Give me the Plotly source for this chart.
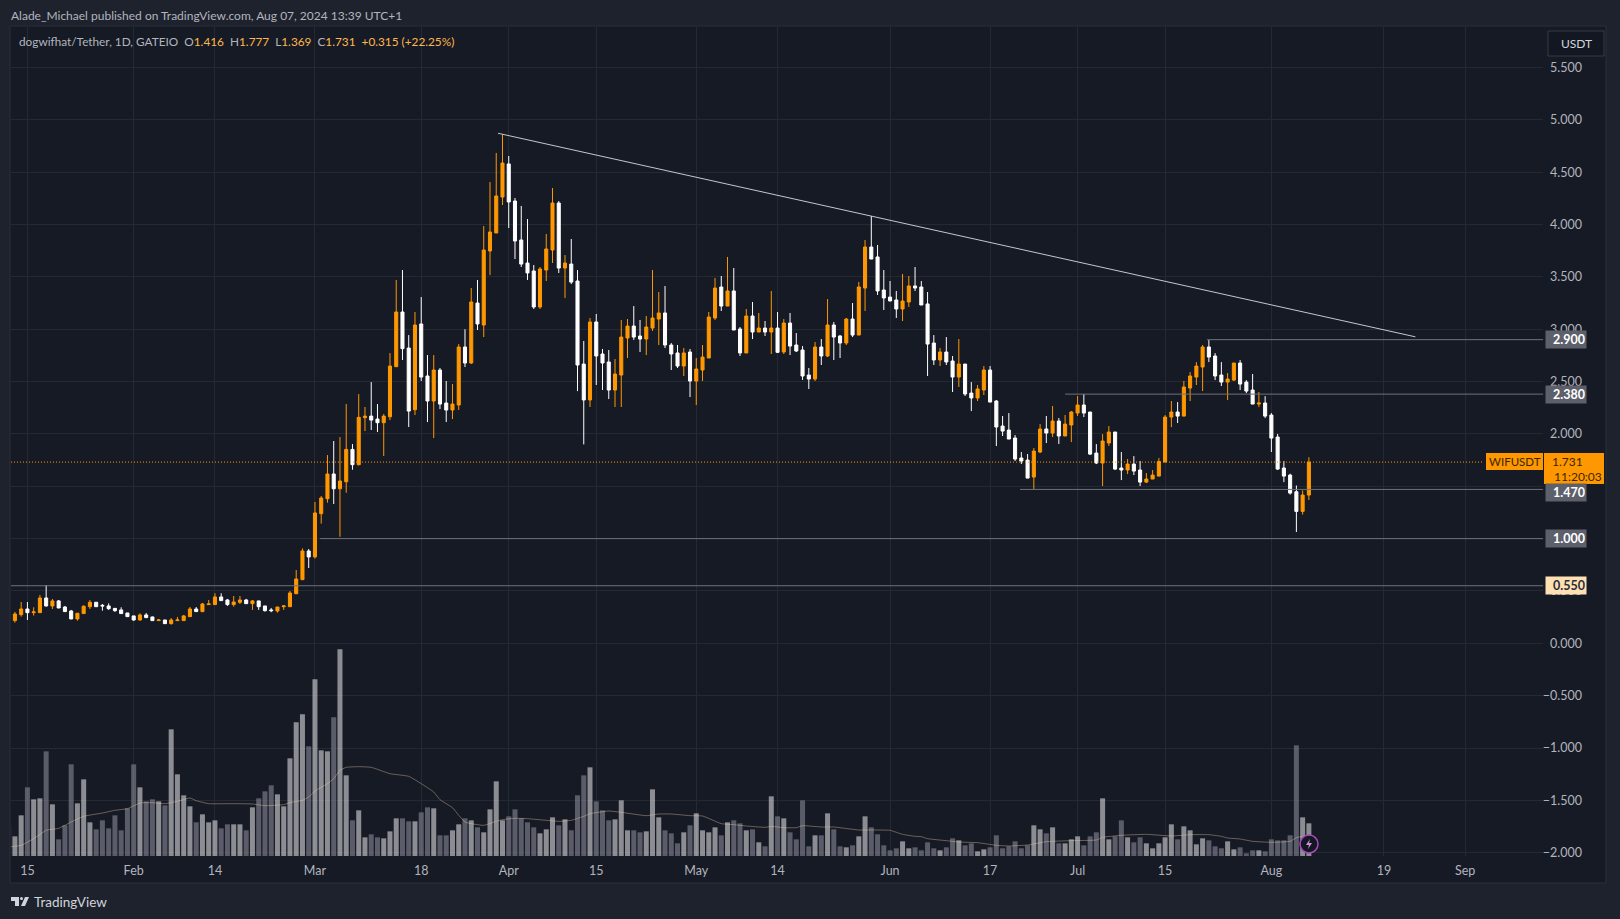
import pandas as pd
import plotly.graph_objects as go

# daily candles, Jan 12 to Aug 7 2024 (WIF/USDT)
opens = [
    .240, .217, .274, .328, .293, .293, .433, .357, .405, .347, .309, .233, .284, .350, .392, .363, .357, .334, .319, .290,
    .262, .223, .271, .252, .217, .223, .188, .217, .217, .255, .328, .303, .370, .370, .443, .414, .370, .392, .414, .379,
    .405, .357, .319, .309, .350, .350, .474, .608, .882, .825, 1.238, 1.381, 1.617, 1.476, 1.543, 1.852, 1.706, 2.155, 2.170, 2.142,
    2.107, 2.164, 2.642, 3.164, 2.820, 2.231, 3.050, 2.553, 2.314, 2.610, 2.295, 2.228, 2.276, 2.830, 2.677, 3.250, 3.040, 3.747, 3.919, 4.262,
    4.578, 4.224, 3.852, 3.632, 3.556, 3.212, 3.565, 3.756, 4.205, 3.584, 3.622, 3.460, 2.667, 2.324, 3.069, 2.763, 2.687, 2.419, 2.562, 2.916,
    3.030, 2.935, 2.906, 3.011, 3.097, 3.155, 2.849, 2.773, 2.648, 2.782, 2.505, 2.610, 2.725, 3.107, 3.403, 3.221, 3.365, 3.002, 2.773, 3.126,
    2.973, 3.011, 2.973, 3.011, 2.782, 3.059, 2.849, 2.801, 2.562, 2.524, 2.830, 2.744, 3.040, 2.935, 2.868, 3.097, 2.944, 3.393, 3.785, 3.690,
    3.374, 3.307, 3.279, 3.193, 3.260, 3.413, 3.403, 3.241, 2.868, 2.706, 2.782, 2.696, 2.543, 2.667, 2.390, 2.343, 2.419, 2.610, 2.314, 2.075,
    2.037, 1.961, 1.770, 1.750, 1.588, 1.827, 2.047, 2.008, 2.123, 1.980, 2.085, 2.199, 2.276, 2.209, 1.817, 1.722, 1.913, 2.018, 1.674, 1.655,
    1.712, 1.655, 1.540, 1.569, 1.597, 1.731, 2.161, 2.209, 2.170, 2.438, 2.543, 2.639, 2.830, 2.744, 2.562, 2.495, 2.514, 2.677, 2.495, 2.419,
    2.285, 2.295, 2.180, 1.970, 1.674, 1.607, 1.448, 1.260, 1.416,
]
highs = [
    .260, .300, .395, .395, .344, .462, .557, .424, .414, .357, .319, .290, .363, .414, .392, .376, .382, .334, .344, .290,
    .262, .287, .290, .255, .233, .223, .242, .252, .271, .347, .347, .386, .414, .478, .478, .424, .452, .452, .424, .414,
    .405, .357, .338, .347, .366, .500, .700, .907, .901, 1.350, 1.407, 1.798, 1.932, 1.970, 2.285, 1.903, 2.380, 2.257, 2.495, 2.285,
    2.190, 2.772, 3.470, 3.565, 2.944, 3.164, 3.307, 2.753, 2.753, 2.630, 2.505, 2.476, 2.858, 3.000, 3.393, 3.470, 3.985, 4.406, 4.683, 4.864,
    4.654, 4.253, 4.177, 4.052, 3.613, 3.594, 3.909, 4.348, 4.224, 3.708, 3.861, 3.565, 2.887, 3.107, 3.145, 2.811, 2.801, 2.715, 3.088, 3.097,
    3.221, 3.088, 3.126, 3.565, 3.355, 3.412, 2.868, 2.849, 2.820, 2.811, 2.725, 2.849, 3.164, 3.489, 3.508, 3.690, 3.584, 3.021, 3.193, 3.260,
    3.155, 3.078, 3.365, 3.164, 3.097, 3.155, 2.963, 2.839, 2.629, 2.878, 2.906, 3.288, 3.069, 2.945, 3.107, 3.250, 3.451, 3.852, 4.081, 3.804,
    3.565, 3.460, 3.365, 3.527, 3.508, 3.594, 3.460, 3.355, 2.944, 2.820, 2.925, 2.744, 2.906, 2.667, 2.495, 2.467, 2.648, 2.648, 2.324, 2.171,
    2.199, 1.989, 1.827, 1.808, 1.865, 2.094, 2.171, 2.266, 2.152, 2.180, 2.218, 2.362, 2.381, 2.209, 1.903, 1.998, 2.075, 2.018, 1.827, 1.760,
    1.788, 1.741, 1.626, 1.655, 1.769, 2.180, 2.314, 2.304, 2.505, 2.591, 2.686, 2.849, 2.896, 2.772, 2.686, 2.581, 2.677, 2.705, 2.514, 2.572,
    2.400, 2.361, 2.199, 2.000, 1.741, 1.620, 1.507, 1.460, 1.777,
]
lows = [
    .210, .198, .255, .223, .265, .290, .350, .328, .335, .300, .230, .217, .282, .328, .350, .312, .319, .300, .280, .255,
    .215, .217, .240, .215, .215, .185, .179, .215, .215, .252, .300, .297, .368, .370, .405, .357, .350, .376, .376, .319,
    .319, .303, .297, .293, .319, .350, .470, .608, .719, .809, 1.143, 1.343, 1.330, 1.018, 1.438, 1.658, 1.700, 2.027, 2.037, 2.018,
    1.789, 2.132, 2.640, 2.706, 2.066, 2.180, 2.505, 2.113, 1.960, 2.237, 2.113, 2.142, 2.228, 2.639, 2.667, 2.992, 2.925, 3.517, 3.919, 4.186,
    3.966, 3.670, 3.594, 3.470, 3.193, 3.193, 3.460, 3.632, 3.537, 3.298, 3.431, 2.409, 1.900, 2.257, 2.467, 2.419, 2.333, 2.257, 2.257, 2.725,
    2.897, 2.782, 2.753, 2.983, 2.849, 2.820, 2.610, 2.629, 2.553, 2.352, 2.276, 2.505, 2.725, 3.088, 3.174, 3.221, 2.992, 2.744, 2.773, 2.906,
    2.973, 2.935, 2.763, 2.773, 2.763, 2.753, 2.782, 2.515, 2.429, 2.505, 2.658, 2.734, 2.706, 2.725, 2.849, 2.925, 2.944, 3.174, 3.670, 3.327,
    3.183, 3.269, 3.107, 3.078, 3.212, 3.365, 3.231, 2.553, 2.658, 2.648, 2.658, 2.400, 2.448, 2.362, 2.218, 2.314, 2.371, 2.304, 1.884, 1.980,
    1.951, 1.741, 1.712, 1.578, 1.473, 1.817, 1.913, 1.970, 1.903, 1.980, 1.922, 2.171, 2.161, 1.798, 1.712, 1.502, 1.884, 1.655, 1.559, 1.616,
    1.607, 1.502, 1.530, 1.569, 1.597, 1.731, 2.065, 2.104, 2.170, 2.314, 2.467, 2.409, 2.686, 2.514, 2.457, 2.323, 2.505, 2.419, 2.390, 2.285,
    2.256, 2.151, 1.827, 1.655, 1.540, 1.420, 1.063, 1.230, 1.369,
]
closes = [
    .217, .280, .328, .293, .300, .433, .357, .405, .338, .303, .233, .287, .354, .392, .350, .357, .331, .312, .284, .255,
    .223, .271, .246, .217, .223, .188, .223, .223, .262, .328, .303, .376, .376, .443, .408, .370, .395, .414, .379, .405,
    .350, .312, .312, .347, .357, .481, .614, .882, .825, 1.245, 1.388, 1.617, 1.476, 1.550, 1.852, 1.706, 2.158, 2.170, 2.132, 2.107,
    2.170, 2.648, 3.164, 2.814, 2.218, 3.040, 2.543, 2.314, 2.610, 2.285, 2.228, 2.285, 2.830, 2.677, 3.260, 3.050, 3.756, 3.928, 4.272, 4.587,
    4.215, 3.842, 3.622, 3.537, 3.212, 3.575, 3.766, 4.205, 3.584, 3.632, 3.450, 2.658, 2.324, 3.069, 2.744, 2.677, 2.419, 2.572, 2.925, 3.030,
    2.925, 2.906, 3.021, 3.107, 3.155, 2.849, 2.763, 2.648, 2.773, 2.505, 2.620, 2.734, 3.116, 3.393, 3.221, 3.365, 2.992, 2.773, 3.126, 2.973,
    3.011, 2.973, 3.011, 2.779, 3.059, 2.839, 2.792, 2.553, 2.524, 2.830, 2.744, 3.040, 2.925, 2.868, 3.097, 2.944, 3.403, 3.785, 3.670, 3.365,
    3.298, 3.269, 3.193, 3.269, 3.413, 3.393, 3.231, 2.858, 2.706, 2.782, 2.687, 2.543, 2.667, 2.381, 2.343, 2.429, 2.610, 2.304, 2.066, 2.027,
    1.951, 1.760, 1.741, 1.578, 1.836, 2.047, 2.008, 2.123, 1.980, 2.094, 2.209, 2.276, 2.199, 1.807, 1.722, 1.932, 2.018, 1.664, 1.655, 1.712,
    1.645, 1.540, 1.569, 1.607, 1.737, 2.161, 2.209, 2.170, 2.448, 2.553, 2.648, 2.830, 2.734, 2.553, 2.495, 2.524, 2.677, 2.476, 2.409, 2.285,
    2.295, 2.170, 1.960, 1.664, 1.597, 1.435, 1.260, 1.416, 1.731,
]
volumes = [
    92, 59, 122, 206, 170, 173, 314, 155, 50, 92, 275, 158, 230, 101, 80, 107, 83, 122, 77, 143,
    275, 206, 164, 170, 164, 152, 380, 245, 182, 149, 101, 125, 101, 107, 83, 95, 95, 95, 77, 146,
    173, 194, 212, 185, 149, 293, 401, 425, 329, 530, 317, 314, 416, 620, 242, 107, 137, 56, 65, 56,
    53, 74, 113, 113, 104, 104, 131, 146, 143, 62, 62, 77, 95, 113, 107, 86, 71, 140, 224, 107,
    119, 140, 113, 101, 86, 68, 80, 116, 92, 110, 77, 182, 242, 266, 164, 137, 107, 110, 167, 77,
    77, 71, 74, 200, 116, 77, 68, 38, 71, 92, 128, 77, 71, 86, 62, 101, 107, 98, 77, 80,
    41, 29, 179, 119, 113, 71, 50, 167, 29, 62, 62, 128, 80, 29, 26, 32, 59, 119, 86, 65,
    32, 17, 23, 44, 23, 26, 17, 41, 23, 17, 26, 53, 47, 32, 38, 14, 20, 26, 62, 23,
    29, 44, 23, 32, 92, 80, 68, 86, 38, 38, 50, 59, 32, 59, 71, 173, 50, 59, 107, 56,
    41, 56, 38, 23, 38, 56, 95, 50, 89, 77, 35, 53, 47, 29, 23, 44, 20, 26, 8, 17,
    17, 14, 50, 47, 47, 62, 332, 116, 98,
]

# volume moving average, read at the days where it bends (days after Jan 15)
ma_days = [
    -3, -1, 1, 3, 5, 7, 9, 12, 14, 16, 18, 20, 22, 24, 26, 27, 29, 33, 36, 38, 41, 42, 44, 45, 46, 48, 49, 50, 51, 53, 55,
    58, 61, 63, 65, 66, 68, 69, 70, 71, 73, 75, 76, 78, 80, 83, 85, 87, 89, 90, 93, 95, 99, 101, 103, 106, 108, 111, 113,
    115, 118, 119, 121, 123, 124, 127, 129, 133, 135, 138, 140, 142, 143, 144, 147, 149, 152, 155, 157, 160, 163, 167,
    171, 172, 175, 179, 183, 186, 189, 191, 192, 194, 196, 199, 202, 203, 204,
]
ma_values = [
    27, 32, 52, 77, 83, 102, 119, 129, 137, 142, 159, 160, 157, 164, 174, 166, 157, 157, 156, 151, 154, 160, 167, 177, 195, 217, 232, 257, 266, 268, 266,
    247, 239, 217, 192, 169, 145, 122, 102, 97, 92, 104, 109, 113, 112, 107, 104, 107, 119, 127, 135, 131, 121, 126, 126, 121, 120, 97, 94,
    90, 86, 89, 85, 85, 91, 87, 87, 78, 78, 77, 65, 59, 58, 52, 46, 42, 40, 32, 30, 33, 43, 46,
    48, 56, 62, 65, 60, 64, 64, 59, 54, 51, 44, 41, 44, 55, 59,
]

tick_dates = ["2024-01-15", "2024-02-01", "2024-02-14", "2024-03-01", "2024-03-18", "2024-04-01", "2024-04-15", "2024-05-01",
              "2024-05-14", "2024-06-01", "2024-06-17", "2024-07-01", "2024-07-15", "2024-08-01", "2024-08-19", "2024-09-01"]
tick_labels = ["15", "Feb", "14", "Mar", "18", "Apr", "15", "May", "14", "Jun", "17", "Jul", "15", "Aug", "19", "Sep"]
price_ticks = [-2.0, -1.5, -1.0, -0.5, 0.0, 0.5, 1.0, 1.5, 2.0, 2.5, 3.0, 3.5, 4.0, 4.5, 5.0, 5.5]
# 1.000 and 1.500 sit fully behind the level tags
price_tick_labels = ["−2.000", "−1.500", "−1.000", "−0.500", "0.000", "0.500", "", "", "2.000", "2.500", "3.000", "3.500", "4.000", "4.500", "5.000", "5.500"]

level_prices = [2.900, 2.380, 1.470, 1.000, 0.550]
level_starts = ["2024-07-21 17:00", "2024-06-29", "2024-06-21 19:00", "2024-03-01 20:00", "2024-01-12 09:00"]
trend_dates = ["2024-03-30 07:00", "2024-08-24 01:00"]
trend_prices = [4.871, 2.927]
last_price = 1.731

X_START, X_END = "2024-01-12 09:00", "2024-09-13 12:00"
Y_RANGE = [-2.031, 5.886]

BG = "#161a25"
OUTER = "#1e222d"
GRID = "#252934"
TEXT = "#b2b5be"
ORANGE = "#ff9800"
FONT = "Lato"

# plot area in page pixels: x 11..1605 (price axis from 1543), y 27..856
def px(p):
    return (p - 11) / 1594

def py(p):
    return (856 - p) / 829

dates = pd.date_range("2024-01-12", periods=len(closes))
ma_dates = pd.Timestamp("2024-01-15") + pd.to_timedelta(ma_days, unit="D")
vol_colors = ["rgba(255,255,255,0.5)" if c >= o else "rgba(120,123,134,0.7)" for o, c in zip(opens, closes)]

fig = go.Figure()

fig.add_trace(go.Candlestick(
    x=dates, open=opens, high=highs, low=lows, close=closes,
    increasing=dict(line=dict(color=ORANGE, width=1), fillcolor=ORANGE),
    decreasing=dict(line=dict(color="#ffffff", width=1), fillcolor="#ffffff"),
    whiskerwidth=0, yaxis="y", hoverinfo="skip",
))
fig.add_trace(go.Bar(x=dates, y=volumes, marker=dict(color=vol_colors, line_width=0), yaxis="y2", hoverinfo="skip"))
fig.add_trace(go.Scatter(x=ma_dates, y=ma_values, mode="lines", yaxis="y2", hoverinfo="skip",
                         line=dict(color="rgba(240,210,170,0.38)", width=1, shape="spline", smoothing=0.4)))
fig.add_trace(go.Scatter(x=trend_dates, y=trend_prices, mode="lines", yaxis="y", hoverinfo="skip",
                         line=dict(color="#c4c7cf", width=1)))

shapes = []
# chart panel behind everything
shapes.append(dict(type="rect", xref="paper", yref="paper", x0=px(10), x1=px(1606), y0=py(883), y1=py(26),
                   fillcolor=BG, line=dict(color="#2a2e39", width=1), layer="below"))
for price, start in zip(level_prices, level_starts):
    shapes.append(dict(type="line", xref="x", yref="y", x0=start, x1=X_END, y0=price, y1=price,
                       line=dict(color="#6f727d", width=1)))
shapes.append(dict(type="line", xref="paper", yref="y", x0=0, x1=px(1484), y0=last_price, y1=last_price,
                   line=dict(color=ORANGE, width=1, dash="1px,2px")))
# last price tags
shapes.append(dict(type="rect", xref="paper", yref="paper", x0=px(1486), x1=px(1543), y0=py(470), y1=py(453),
                   fillcolor=ORANGE, line_width=0))
shapes.append(dict(type="rect", xref="paper", yref="paper", x0=px(1544), x1=px(1604), y0=py(484), y1=py(453),
                   fillcolor=ORANGE, line_width=0))
# currency button
shapes.append(dict(type="rect", xref="paper", yref="paper", x0=px(1548), x1=px(1604), y0=py(56), y1=py(31),
                   fillcolor="#131722", line=dict(color="#363a45", width=1)))
# lightning badge on the volume pane
shapes.append(dict(type="circle", xref="paper", yref="paper", x0=px(1300), x1=px(1318), y0=py(853), y1=py(835),
                   fillcolor="#131722", line=dict(color="#ab47bc", width=1.5)))

def path(points):
    return "M" + " L".join(f"{px(a):.5f},{py(b):.5f}" for a, b in points) + " Z"

shapes.append(dict(type="path", xref="paper", yref="paper", fillcolor="#ce93d8", line_width=0,
                   path=path([(1310, 839), (1306, 845), (1309, 845), (1308, 849), (1312, 843), (1309, 843)])))
# TradingView logo mark
shapes.append(dict(type="path", xref="paper", yref="paper", fillcolor="#d1d4dc", line_width=0,
                   path=path([(11, 897), (19, 897), (19, 906), (15, 906), (15, 901), (11, 901)])))
shapes.append(dict(type="circle", xref="paper", yref="paper", x0=px(20), x1=px(23), y0=py(900), y1=py(897),
                   fillcolor="#d1d4dc", line_width=0))
shapes.append(dict(type="path", xref="paper", yref="paper", fillcolor="#d1d4dc", line_width=0,
                   path=path([(25, 897), (29, 897), (25, 906), (21, 906)])))

annotations = [
    dict(x=px(9), y=py(15.5), text="Alade_Michael published on TradingView.com, Aug 07, 2024 13:39 UTC+1",
         font=dict(size=12, color=TEXT), xanchor="left"),
    dict(x=px(16.5), y=py(41),
         text=("dogwifhat/Tether, 1D, GATEIO &nbsp;O<span style='color:#ffb74d'>1.416</span> &nbsp;H<span style='color:#ffb74d'>1.777</span>"
               " &nbsp;L<span style='color:#ffb74d'>1.369</span> &nbsp;C<span style='color:#ffb74d'>1.731</span>"
               " &nbsp;<span style='color:#ffb74d'>+0.315 (+22.25%)</span>"),
         font=dict(size=11.8, color=TEXT), xanchor="left"),
    dict(x=px(32), y=py(902), text="TradingView", font=dict(size=13.5, color="#d1d4dc"), xanchor="left"),
    dict(x=px(1576), y=py(44), text="USDT", font=dict(size=12, color="#d1d4dc"), xanchor="center"),
    dict(x=px(1514.5), y=py(461.5), text="WIFUSDT", font=dict(size=11.5, color="#3a2500"), xanchor="center"),
    dict(x=px(1585), y=py(461.5), text="1.731", font=dict(size=12, color="#3a2500"), xanchor="right"),
    dict(x=px(1552), y=py(476), text="11:20:03", font=dict(size=12, color="#3a2500"), xanchor="left"),
]
for price in level_prices:
    light = price == 0.550
    annotations.append(dict(
        x=px(1566), y=price, yref="y", text=f"<b>{price:.3f}</b>", width=38, height=15, align="right",
        bgcolor="#ffe0b2" if light else "#5d606b", borderpad=1, xanchor="center",
        yshift=-3.5 if price == 1.470 else 0,
        font=dict(size=12.5, color="#2a2e39" if light else "#ffffff"),
    ))
for a in annotations:
    a.setdefault("xref", "paper")
    a.setdefault("yref", "paper")
    a["yanchor"] = "middle"
    a["showarrow"] = False

fig.update_layout(
    width=1620, height=919,
    margin=dict(l=11, r=15, t=27, b=63),
    paper_bgcolor=OUTER, plot_bgcolor=BG,
    font=dict(family=FONT, color=TEXT, size=12),
    showlegend=False, bargap=0.2,
    shapes=shapes, annotations=annotations,
    xaxis=dict(
        domain=[0, px(1543.3)], range=[X_START, X_END], type="date", rangeslider=dict(visible=False),
        tickmode="array", tickvals=tick_dates, ticktext=tick_labels,
        showgrid=True, gridcolor=GRID, gridwidth=1, zeroline=False, showline=False,
        ticks="outside", ticklen=3, tickcolor="rgba(0,0,0,0)", tickfont=dict(size=12.5, color=TEXT),
    ),
    yaxis=dict(
        range=Y_RANGE, tickmode="array", tickvals=price_ticks, ticktext=price_tick_labels,
        anchor="free", position=px(1585), side="right", ticklabelposition="inside", ticklabeloverflow="allow",
        showgrid=True, gridcolor=GRID, gridwidth=1, zeroline=False, showline=False,
        tickfont=dict(size=12.5, color=TEXT),
    ),
    yaxis2=dict(range=[0, 2487], overlaying="y", visible=False),
)

fig.write_html("out.html", config=dict(displayModeBar=False),
               post_script="document.body.style.margin='0';document.body.style.overflow='hidden';")
